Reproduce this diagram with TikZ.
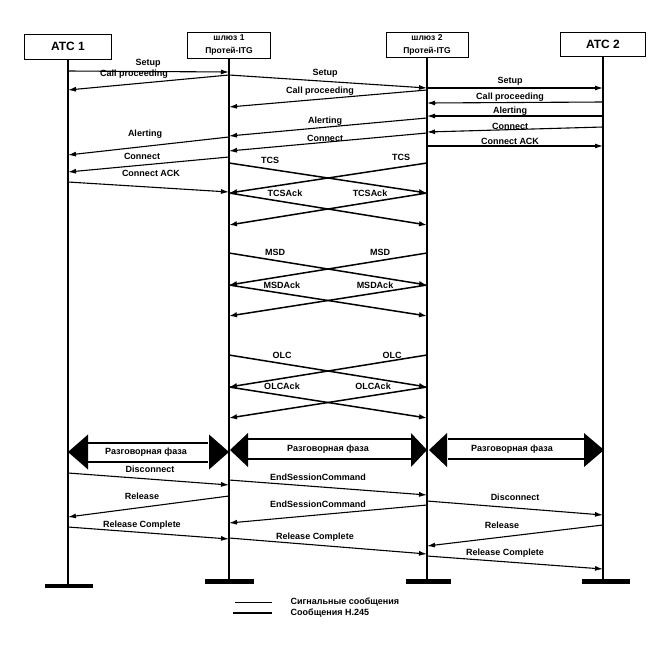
\documentclass[tikz,border=0pt]{standalone}
\usepackage{fontspec}
\setmainfont{Liberation Sans}
\usetikzlibrary{arrows.meta}
\begin{document}
\begin{tikzpicture}[x=1pt,y=-1pt,
  box/.style={draw, line width=1pt, inner sep=0pt},
  endbar/.style={fill=black, inner sep=0pt, minimum height=4.5pt},
  life/.style={line width=1.3pt},
  sig/.style={line width=1.1pt, -{Latex[length=8pt,width=5pt]}},
  hmsg/.style={line width=1.5pt, -{Latex[length=8pt,width=5.5pt]}},
  lbl/.style={font=\bfseries\fontsize{9}{10}\selectfont, inner sep=0.5pt},
  talk/.style={line width=1.4pt},
]
\useasboundingbox (0,0) rectangle (661,646);

% header boxes
\node[box, minimum width=87pt, minimum height=25pt, font=\bfseries\fontsize{12}{14}\selectfont] (B1) at (68,46.5) {ATC 1};
\node[box, minimum width=83pt, minimum height=26pt, align=center, font=\bfseries\fontsize{8.5}{13}\selectfont] (B2) at (229,45) {шлюз 1\\Протей-ITG};
\node[box, minimum width=82pt, minimum height=25pt, align=center, font=\bfseries\fontsize{8.5}{13}\selectfont] (B3) at (427,44.5) {шлюз 2\\Протей-ITG};
\node[box, minimum width=85pt, minimum height=24pt, font=\bfseries\fontsize{12}{14}\selectfont] (B4) at (603,44) {ATC 2};

% end bars
\node[endbar, minimum width=48pt] (E1) at (69,586) {};
\node[endbar, minimum width=49pt] (E2) at (229.5,581.5) {};
\node[endbar, minimum width=45pt] (E3) at (428.5,581.5) {};
\node[endbar, minimum width=48pt] (E4) at (606,581.5) {};

% lifelines
\coordinate (L1) at (B1.south);
\coordinate (L2) at (B2.south);
\coordinate (L3) at (B3.south);
\coordinate (L4) at (B4.south);
\draw[life] (L1) -- (L1 |- E1.north);
\draw[life] (L2) -- (L2 |- E2.north);
\draw[life] (L3) -- (L3 |- E3.north);
\draw[life] (L4) -- (L4 |- E4.north);

% ATC1 - GW1 setup
\draw[sig] (L1 |- 0,71) -- (L2 |- 0,72);   \node[lbl] (m1) at (148,63) {Setup};
\draw[sig] (L2 |- 0,75) -- (L1 |- 0,90);   \node[lbl] (m2) at (134,74) {Call proceeding};
\draw[sig] (L2 |- 0,137) -- (L1 |- 0,155); \node[lbl] (m3) at (145,134) {Alerting};
\draw[sig] (L2 |- 0,157) -- (L1 |- 0,172); \node[lbl] (m4) at (142,156) {Connect};
\draw[sig] (L1 |- 0,182) -- (L2 |- 0,192); \node[lbl] (m5) at (151,173) {Connect ACK};

% GW1 - GW2 setup
\draw[sig] (L2 |- 0,75) -- (L3 |- 0,88);   \node[lbl] (m6) at (325,73) {Setup};
\draw[sig] (L3 |- 0,90) -- (L2 |- 0,107);  \node[lbl] (m7) at (320,91) {Call proceeding};
\draw[sig] (L3 |- 0,118) -- (L2 |- 0,136); \node[lbl] (m8) at (325,121) {Alerting};
\draw[sig] (L3 |- 0,133) -- (L2 |- 0,151); \node[lbl] (m9) at (325,138) {Connect};

% GW2 - ATC2 setup
\draw[sig] (L3 |- 0,88) -- (L4 |- 0,88);   \node[lbl] (m10) at (510,81) {Setup};
\draw[sig] (L4 |- 0,102) -- (L3 |- 0,103); \node[lbl] (m11) at (510,97) {Call proceeding};
\draw[sig] (L4 |- 0,116) -- (L3 |- 0,116); \node[lbl] (m12) at (510,111) {Alerting};
\draw[sig] (L4 |- 0,127) -- (L3 |- 0,132); \node[lbl] (m13) at (510,126) {Connect};
\draw[sig] (L3 |- 0,146) -- (L4 |- 0,146); \node[lbl] (m14) at (510,141) {Connect ACK};

% H.245
\draw[hmsg] (L2 |- 0,163) -- (L3 |- 0,193); \node[lbl] (h1) at (270,160) {TCS};
\draw[hmsg] (L3 |- 0,163) -- (L2 |- 0,193); \node[lbl] (h2) at (401,157) {TCS};
\draw[hmsg] (L2 |- 0,193) -- (L3 |- 0,225); \node[lbl] (h3) at (285,193) {TCSAck};
\draw[hmsg] (L3 |- 0,193) -- (L2 |- 0,225); \node[lbl] (h4) at (370,193) {TCSAck};
\draw[hmsg] (L2 |- 0,253) -- (L3 |- 0,285); \node[lbl] (h5) at (275,252) {MSD};
\draw[hmsg] (L3 |- 0,253) -- (L2 |- 0,285); \node[lbl] (h6) at (380,252) {MSD};
\draw[hmsg] (L2 |- 0,285) -- (L3 |- 0,316); \node[lbl] (h7) at (282,285) {MSDAck};
\draw[hmsg] (L3 |- 0,285) -- (L2 |- 0,316); \node[lbl] (h8) at (375,285) {MSDAck};
\draw[hmsg] (L2 |- 0,355) -- (L3 |- 0,387); \node[lbl] (h9) at (282,355) {OLC};
\draw[hmsg] (L3 |- 0,355) -- (L2 |- 0,387); \node[lbl] (h10) at (392,355) {OLC};
\draw[hmsg] (L2 |- 0,387) -- (L3 |- 0,418); \node[lbl] (h11) at (282,386) {OLCAck};
\draw[hmsg] (L3 |- 0,387) -- (L2 |- 0,418); \node[lbl] (h12) at (373,386) {OLCAck};

% talk phases
\fill (L1 |- 0,452) -- ++(20,-17.5) -- ++(0,35) -- cycle;
\fill (L2 |- 0,452) -- ++(-20,-17.5) -- ++(0,35) -- cycle;
\draw[talk] (88,443) -- (208,443) (88,462) -- (208,462);
\node[lbl] (t1) at (146,452) {Разговорная фаза};

\fill (L2 |- 0,450) ++(1,0) -- ++(18,-17) -- ++(0,34) -- cycle;
\fill (L3 |- 0,450) -- ++(-16,-17) -- ++(0,34) -- cycle;
\draw[talk] (247,439) -- (412,439) (247,459) -- (412,459);
\node[lbl] (t2) at (328,449) {Разговорная фаза};

\fill (L3 |- 0,450) ++(2,0) -- ++(18,-17) -- ++(0,34) -- cycle;
\fill (L4 |- 0,450) ++(1,0) -- ++(-20,-17) -- ++(0,34) -- cycle;
\draw[talk] (448,439) -- (585,439) (448,459) -- (585,459);
\node[lbl] (t3) at (512,449) {Разговорная фаза};

% release
\draw[sig] (L1 |- 0,473) -- (L2 |- 0,485); \node[lbl] (r1) at (150,469) {Disconnect};
\draw[sig] (L2 |- 0,496) -- (L1 |- 0,517); \node[lbl] (r2) at (142,496) {Release};
\draw[sig] (L1 |- 0,527) -- (L2 |- 0,539); \node[lbl] (r3) at (142,525) {Release Complete};
\draw[sig] (L2 |- 0,480) -- (L3 |- 0,495); \node[lbl] (r4) at (318,477) {EndSessionCommand};
\draw[sig] (L3 |- 0,505) -- (L2 |- 0,523); \node[lbl] (r5) at (318,504) {EndSessionCommand};
\draw[sig] (L2 |- 0,538) -- (L3 |- 0,554); \node[lbl] (r6) at (315,537) {Release Complete};
\draw[sig] (L3 |- 0,501) -- (L4 |- 0,515); \node[lbl] (r7) at (515,497) {Disconnect};
\draw[sig] (L4 |- 0,525) -- (L3 |- 0,546); \node[lbl] (r8) at (502,525) {Release};
\draw[sig] (L3 |- 0,556) -- (L4 |- 0,569); \node[lbl] (r9) at (505,553) {Release Complete};

% legend
\node[lbl, anchor=west] (lg1) at (290,602) {Сигнальные сообщения};
\node[lbl, anchor=west] (lg2) at (290,613) {Сообщения H.245};
\coordinate (lg1a) at (235,602);
\coordinate (lg2a) at (233,613);
\draw[line width=0.8pt] (lg1a) -- (lg1a -| 272,0);
\draw[line width=1.6pt] (lg2a) -- (lg2a -| 272,0);
\end{tikzpicture}
\end{document}
